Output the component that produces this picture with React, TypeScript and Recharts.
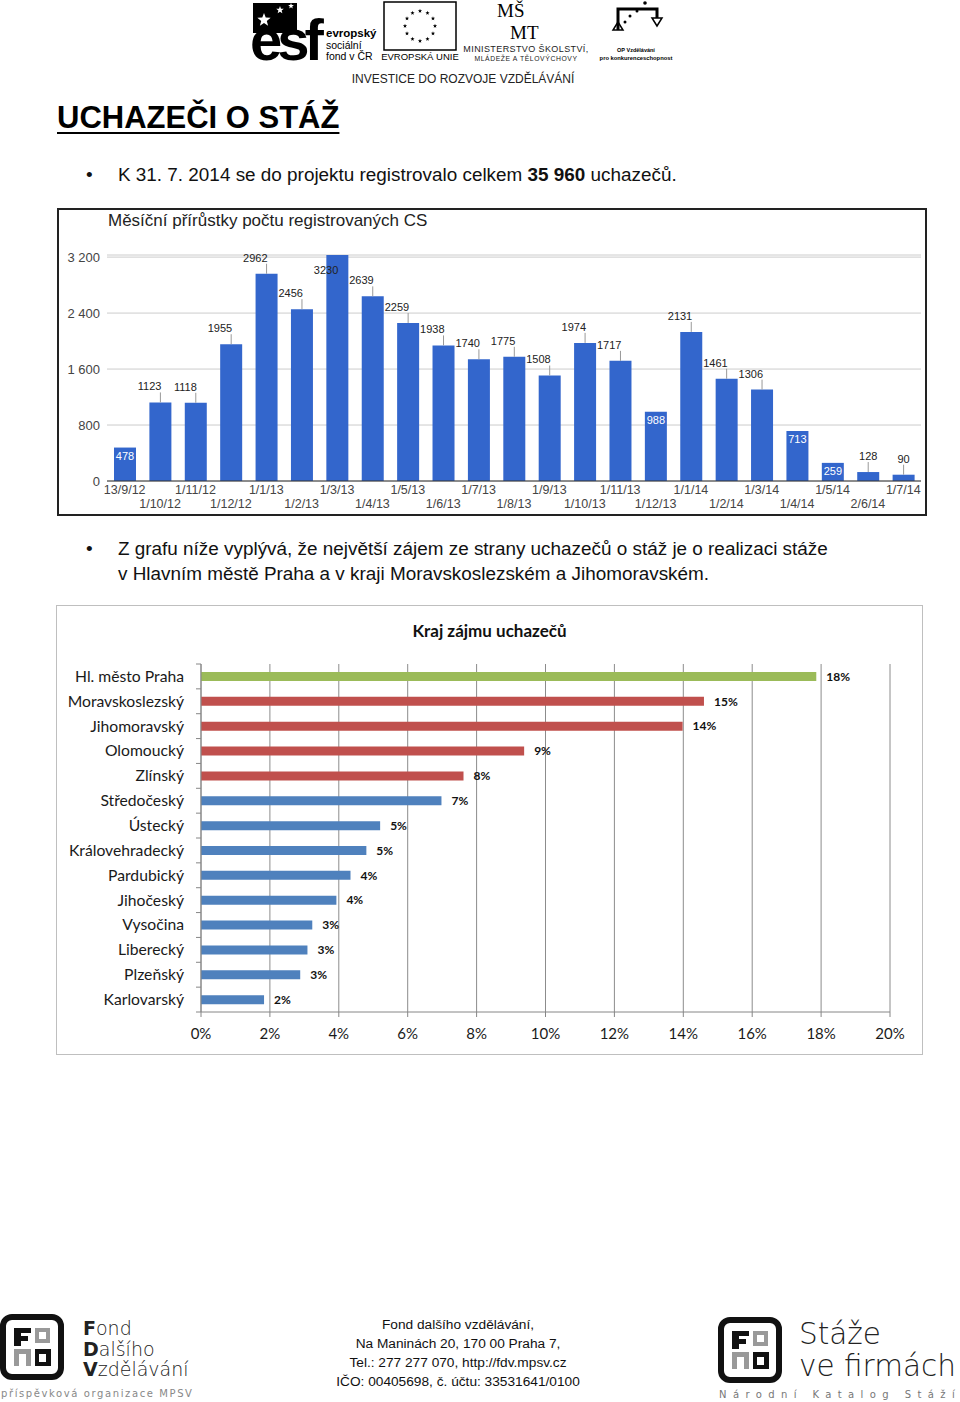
import { Bar, BarChart, CartesianGrid, Cell, LabelList, XAxis, YAxis } from "recharts";

// monthly increments of registered candidates
const MONTHS = [
  "13/9/12", "1/10/12", "1/11/12", "1/12/12", "1/1/13", "1/2/13", "1/3/13", "1/4/13",
  "1/5/13", "1/6/13", "1/7/13", "1/8/13", "1/9/13", "1/10/13", "1/11/13", "1/12/13",
  "1/1/14", "1/2/14", "1/3/14", "1/4/14", "1/5/14", "2/6/14", "1/7/14",
];
const NEW_CANDIDATES = [
  478, 1123, 1118, 1955, 2962, 2456, 3230, 2639, 2259, 1938, 1740, 1775, 1508, 1974, 1717, 988,
  2131, 1461, 1306, 713, 259, 128, 90,
];
const COUNT_TICKS = [0, 800, 1600, 2400, 3200];

// region of interest
const REGIONS = [
  "Hl. město Praha", "Moravskoslezský", "Jihomoravský", "Olomoucký", "Zlínský", "Středočeský",
  "Ústecký", "Královehradecký", "Pardubický", "Jihočeský", "Vysočina", "Liberecký", "Plzeňský",
  "Karlovarský",
];
const REGION_SHARES = [17.86, 14.6, 13.98, 9.38, 7.62, 6.98, 5.2, 4.8, 4.34, 3.93, 3.23, 3.09, 2.88, 1.83];
const SHARE_TICKS = [0, 2, 4, 6, 8, 10, 12, 14, 16, 18, 20];

const FOOTER_LINES = [
  "Fond dalšího vzdělávání,",
  "Na Maninách 20, 170 00 Praha 7,",
  "Tel.: 277 277 070, http://fdv.mpsv.cz",
  "IČO: 00405698, č. účtu: 33531641/0100",
];

const ARIAL = "'Liberation Sans', Arial, sans-serif";
const CALIBRI = "Lato, 'Noto Sans', sans-serif";
const GOTHIC = "'DejaVu Sans', sans-serif";

const C2_HEIGHT = 448;
const C2_MARGIN = { top: 58, right: 32, bottom: 12, left: 0 };
const C2_XAXIS_H = 30;
const REGION_BAND = (C2_HEIGHT - C2_MARGIN.top - C2_MARGIN.bottom - C2_XAXIS_H) / REGIONS.length;

function spaced(v: number): string {
  return String(v).replace(/\B(?=(\d{3})+(?!\d))/g, " ");
}

function regionColor(index: number): string {
  if (index === 0) return "#9BBB59";
  if (index <= 4) return "#C0504D";
  return "#4F81BD";
}

function MonthTick(props: any) {
  const { x, y, payload, index } = props;
  const dy = index % 2 === 0 ? 13 : 27;
  return (
    <text x={x} y={y + dy} textAnchor="middle" fontSize={12.5} fill="#444" fontFamily={ARIAL}>
      {payload.value}
    </text>
  );
}

function CountLabel(props: any) {
  const { x, y, width, value } = props;
  const cx = x + width / 2;
  const v = Number(value);
  if (v > 3200) {
    return (
      <text x={cx + 1} y={y + 19} textAnchor="end" fontSize={11} fill="#222" fontFamily={ARIAL}>
        {v}
      </text>
    );
  }
  if (v >= 200 && v < 1000) {
    return (
      <text x={cx} y={y + 12} textAnchor="middle" fontSize={11} fill="#fff" fontFamily={ARIAL}>
        {v}
      </text>
    );
  }
  return (
    <g>
      <line x1={cx} x2={cx} y1={y} y2={y - 10} stroke="#999" />
      <text
        x={v < 200 ? cx : cx + 1}
        y={y - 12}
        textAnchor={v < 200 ? "middle" : "end"}
        fontSize={11}
        fill="#222"
        fontFamily={ARIAL}
      >
        {v}
      </text>
    </g>
  );
}

function RegionTick(props: any) {
  const { x, y, payload, index, visibleTicksCount } = props;
  const half = REGION_BAND / 2;
  return (
    <g>
      <line x1={x + 12} x2={x + 17} y1={y - half} y2={y - half} stroke="#868686" />
      {index === visibleTicksCount - 1 && (
        <line x1={x + 12} x2={x + 17} y1={y + half} y2={y + half} stroke="#868686" />
      )}
      <text x={x} y={y} dy="0.35em" textAnchor="end" fontSize={15.7} fill="#1a1a1a" fontFamily={CALIBRI}>
        {payload.value}
      </text>
    </g>
  );
}

function MonthlyChart() {
  const data = MONTHS.map((month, i) => ({ month, count: NEW_CANDIDATES[i] }));
  return (
    <div
      style={{
        position: "absolute",
        left: 57,
        top: 208,
        width: 870,
        height: 308,
        boxSizing: "border-box",
        border: "2px solid #222",
        background: "#fff",
      }}
    >
      <div
        style={{
          position: "absolute",
          left: 49,
          top: 1,
          fontFamily: ARIAL,
          fontSize: 17,
          lineHeight: "20px",
          color: "#222",
        }}
      >
        Měsíční přírůstky počtu registrovaných CS
      </div>
      <BarChart width={866} height={304} data={data} margin={{ top: 45, right: 4, bottom: 1, left: 0 }}>
        <CartesianGrid vertical={false} stroke="#cccccc" />
        <XAxis
          dataKey="month"
          interval={0}
          height={32}
          tickSize={0}
          tickMargin={0}
          tick={<MonthTick />}
          axisLine={{ stroke: "#333" }}
        />
        <YAxis
          width={48}
          domain={[0, 3230]}
          ticks={COUNT_TICKS}
          tickFormatter={spaced}
          tickSize={0}
          tickMargin={7}
          axisLine={false}
          tick={{ fontSize: 13, fill: "#444", fontFamily: ARIAL }}
        />
        <Bar dataKey="count" fill="#3366CC" barSize={22} isAnimationActive={false}>
          <LabelList dataKey="count" content={<CountLabel />} />
        </Bar>
      </BarChart>
    </div>
  );
}

function RegionChart() {
  const data = REGIONS.map((region, i) => ({ region, share: REGION_SHARES[i] }));
  return (
    <div
      style={{
        position: "absolute",
        left: 56,
        top: 605,
        width: 867,
        height: 450,
        boxSizing: "border-box",
        border: "1px solid #bfbfbf",
        background: "#fff",
      }}
    >
      <div
        style={{
          position: "absolute",
          left: 0,
          right: 0,
          top: 14,
          textAlign: "center",
          fontFamily: CALIBRI,
          fontWeight: 700,
          fontSize: 17,
          lineHeight: "22px",
          color: "#111",
        }}
      >
        Kraj zájmu uchazečů
      </div>
      <BarChart width={865} height={C2_HEIGHT} data={data} layout="vertical" margin={C2_MARGIN}>
        <CartesianGrid horizontal={false} stroke="#8c8c8c" />
        <XAxis
          type="number"
          domain={[0, 20]}
          ticks={SHARE_TICKS}
          height={C2_XAXIS_H}
          tickFormatter={(v) => `${v}%`}
          tickSize={5}
          tickMargin={11}
          axisLine={{ stroke: "#868686" }}
          tickLine={{ stroke: "#868686" }}
          tick={{ fontSize: 15, fill: "#1a1a1a", fontFamily: CALIBRI }}
        />
        <YAxis
          type="category"
          dataKey="region"
          width={144}
          interval={0}
          tickSize={0}
          tickMargin={17}
          axisLine={{ stroke: "#868686" }}
          tick={<RegionTick />}
        />
        <Bar dataKey="share" barSize={9} isAnimationActive={false}>
          {data.map((d, i) => (
            <Cell key={d.region} fill={regionColor(i)} />
          ))}
          <LabelList
            dataKey="share"
            position="right"
            offset={10}
            formatter={(v: any) => `${Math.round(Number(v))}%`}
            style={{ fontSize: 12, fontWeight: 700, fill: "#111", fontFamily: CALIBRI }}
          />
        </Bar>
      </BarChart>
    </div>
  );
}

function Star({ x, y, r, fill }: { x: number; y: number; r: number; fill: string }) {
  const pts: string[] = [];
  for (let i = 0; i < 10; i++) {
    const a = -Math.PI / 2 + (i * Math.PI) / 5;
    const rr = i % 2 === 0 ? r : r * 0.42;
    pts.push(`${x + rr * Math.cos(a)},${y + rr * Math.sin(a)}`);
  }
  return <polygon points={pts.join(" ")} fill={fill} />;
}

function HeaderLogos() {
  const euStars = Array.from({ length: 12 }, (_, i) => {
    const a = (i * Math.PI) / 6;
    return { x: 420 + 15 * Math.cos(a), y: 26 + 15 * Math.sin(a) };
  });
  return (
    <svg width={960} height={90} style={{ position: "absolute", left: 0, top: 0 }}>
      {/* esf */}
      <rect x={253} y={3} width={44} height={30} fill="#000" />
      <Star x={264} y={20} r={7} fill="#fff" />
      <Star x={280} y={10} r={4} fill="#fff" />
      <Star x={291} y={6} r={3} fill="#fff" />
      <text x={250} y={60} fontFamily={ARIAL} fontWeight={700} fontSize={58} letterSpacing={-5} fill="#000">
        esf
      </text>
      <text x={326} y={37} fontFamily={ARIAL} fontWeight={700} fontSize={11.5} fill="#000">evropský</text>
      <text x={326} y={49} fontFamily={ARIAL} fontSize={10.5} fill="#000">sociální</text>
      <text x={326} y={60} fontFamily={ARIAL} fontSize={10.5} fill="#000">fond v ČR</text>
      {/* EU */}
      <rect x={384} y={2} width={72} height={48} fill="none" stroke="#000" strokeWidth={1.5} />
      {euStars.map((s, i) => (
        <Star key={i} x={s.x} y={s.y} r={2.2} fill="#000" />
      ))}
      <text x={420} y={60} textAnchor="middle" fontFamily={ARIAL} fontSize={9.5} fill="#000">EVROPSKÁ UNIE</text>
      {/* MSMT */}
      <text x={497} y={17} fontFamily="'Liberation Serif', serif" fontSize={19} fill="#000">MŠ</text>
      <text x={510} y={39} fontFamily="'Liberation Serif', serif" fontSize={19} fill="#000">MT</text>
      <text x={526} y={52} textAnchor="middle" fontFamily={ARIAL} fontSize={9} letterSpacing={0.4} fill="#222">
        MINISTERSTVO ŠKOLSTVÍ,
      </text>
      <text x={526} y={61} textAnchor="middle" fontFamily={ARIAL} fontSize={6.8} letterSpacing={0.6} fill="#222">
        MLÁDEŽE A TĚLOVÝCHOVY
      </text>
      {/* OP */}
      <path d="M618 30 L618 9 L657 9 L657 18" fill="none" stroke="#000" strokeWidth={3} />
      <polygon points="652,18 662,18 657,26" fill="none" stroke="#000" strokeWidth={1.5} />
      <polygon points="613,30 623,30 618,22" fill="none" stroke="#000" strokeWidth={1.5} />
      <circle cx={625} cy={22} r={1.5} fill="#000" />
      <circle cx={630} cy={16} r={1.5} fill="#000" />
      <circle cx={637} cy={11} r={1.5} fill="#000" />
      <circle cx={645} cy={3} r={1.8} fill="#000" />
      <text x={636} y={52} textAnchor="middle" fontFamily={ARIAL} fontWeight={700} fontSize={5.5} fill="#000">
        OP Vzdělávání
      </text>
      <text x={636} y={60} textAnchor="middle" fontFamily={ARIAL} fontWeight={700} fontSize={5.8} fill="#000">
        pro konkurenceschopnost
      </text>
      <text
        x={463}
        y={83}
        textAnchor="middle"
        fontFamily={ARIAL}
        fontSize={12.5}
        fill="#222"
        transform="translate(463 0) scale(0.96 1) translate(-463 0)"
      >
        INVESTICE DO ROZVOJE VZDĚLÁVÁNÍ
      </text>
    </svg>
  );
}

function FondMark({ x, y }: { x: number; y: number }) {
  return (
    <g transform={`translate(${x} ${y})`}>
      <rect x={3} y={3} width={58} height={60} rx={9} fill="none" stroke="#111" strokeWidth={6} />
      {/* F */}
      <rect x={14} y={14} width={7} height={18} fill="#111" />
      <rect x={14} y={14} width={17} height={5} fill="#111" />
      <rect x={14} y={22} width={14} height={5} fill="#111" />
      {/* o */}
      <rect x={35} y={14} width={15} height={15} fill="#999" />
      <rect x={39} y={18} width={7} height={7} fill="#fff" />
      {/* n */}
      <rect x={14} y={35} width={17} height={17} fill="#999" />
      <rect x={19} y={40} width={7} height={12} fill="#fff" />
      {/* d */}
      <rect x={35} y={35} width={16} height={17} fill="#111" />
      <rect x={39} y={40} width={7} height={8} fill="#fff" />
    </g>
  );
}

function Footer() {
  return (
    <svg width={960} height={100} style={{ position: "absolute", left: 0, top: 1302 }}>
      <FondMark x={0} y={12} />
      <text x={83} y={33} fontFamily={GOTHIC} fontWeight={300} fontSize={19} fill="#222">
        <tspan fontWeight={700}>F</tspan>ond
      </text>
      <text x={83} y={54} fontFamily={GOTHIC} fontWeight={300} fontSize={19} fill="#222">
        <tspan fontWeight={700}>D</tspan>alšího
      </text>
      <text x={83} y={74} fontFamily={GOTHIC} fontWeight={300} fontSize={19} fill="#222">
        <tspan fontWeight={700}>V</tspan>zdělávání
      </text>
      <text x={1} y={95} fontFamily={GOTHIC} fontSize={10} letterSpacing={1.6} fill="#888">
        příspěvková organizace MPSV
      </text>
      {FOOTER_LINES.map((line, i) => (
        <text key={line} x={458} y={27 + i * 19} textAnchor="middle" fontFamily={ARIAL} fontSize={13.7} fill="#111">
          {line}
        </text>
      ))}
      <FondMark x={718} y={15} />
      <text x={799} y={42} fontFamily={GOTHIC} fontWeight={300} fontSize={29.5} fill="#222">
        Stáže
      </text>
      <text x={799} y={74} fontFamily={GOTHIC} fontWeight={300} fontSize={29.5} fill="#222">
        ve firmách
      </text>
      <text x={719} y={96} fontFamily={GOTHIC} fontSize={10} letterSpacing={6.4} fill="#777">
        Národní Katalog Stáží
      </text>
    </svg>
  );
}

export default function App() {
  return (
    <div
      style={{
        position: "absolute",
        left: 0,
        top: 0,
        width: 960,
        height: 1402,
        background: "#fff",
        overflow: "hidden",
        fontFamily: ARIAL,
        color: "#111",
      }}
    >
      <HeaderLogos />
      <div
        style={{
          position: "absolute",
          left: 57,
          top: 100,
          fontSize: 31,
          fontWeight: 700,
          lineHeight: "36px",
          textDecoration: "underline",
          textDecorationThickness: 2,
          textUnderlineOffset: 4,
          color: "#000",
        }}
      >
        UCHAZEČI O STÁŽ
      </div>
      <div style={{ position: "absolute", left: 86, top: 163, fontSize: 19, lineHeight: "24px" }}>•</div>
      <div style={{ position: "absolute", left: 118, top: 163, fontSize: 18.9, lineHeight: "24px" }}>
        K 31. 7. 2014 se do projektu registrovalo celkem <b>35 960</b> uchazečů.
      </div>
      <MonthlyChart />
      <div style={{ position: "absolute", left: 86, top: 536, fontSize: 19, lineHeight: "25px" }}>•</div>
      <div style={{ position: "absolute", left: 118, top: 536, fontSize: 18.9, lineHeight: "25px", width: 820 }}>
        Z grafu níže vyplývá, že největší zájem ze strany uchazečů o stáž je o realizaci stáže
        <br />v Hlavním městě Praha a v kraji Moravskoslezském a Jihomoravském.
      </div>
      <RegionChart />
      <Footer />
    </div>
  );
}
